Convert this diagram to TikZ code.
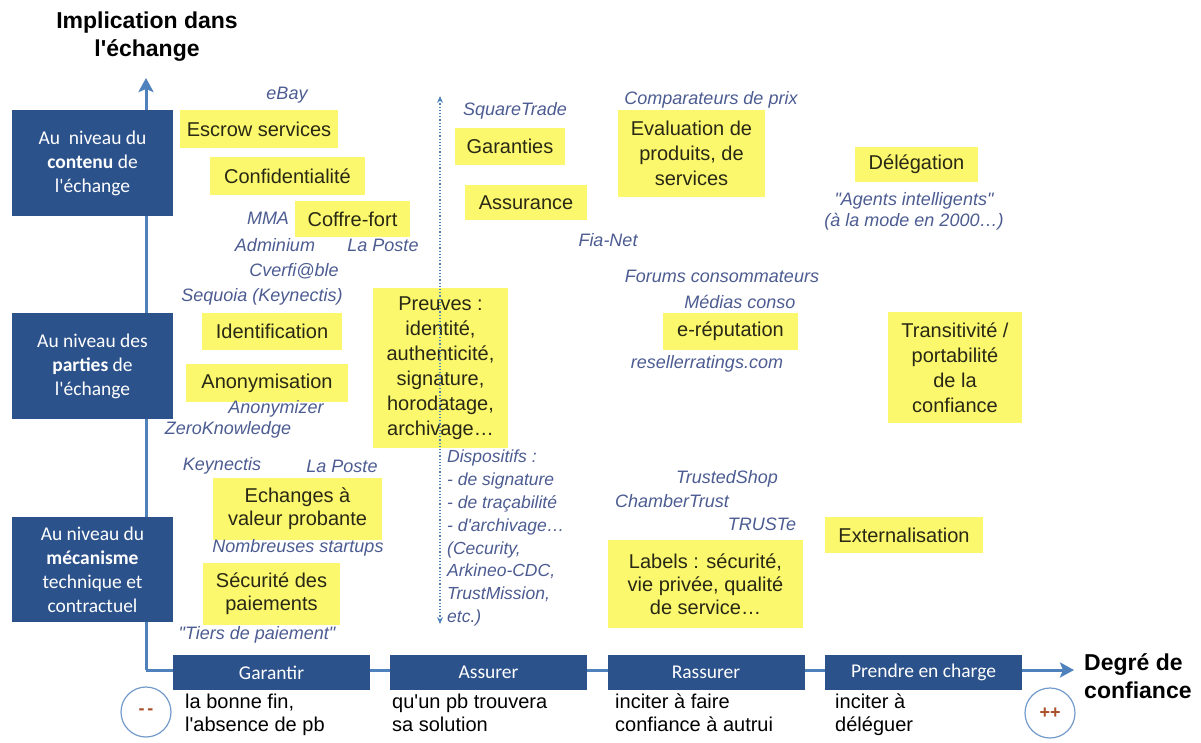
\documentclass[tikz,border=0pt]{standalone}
\usepackage{fontspec}
\setmainfont{Liberation Sans}
\newfontfamily\carlito{Carlito}
\usetikzlibrary{arrows.meta}
\newcommand\aq{\textquotesingle}
\newcommand\dq{\textquotedbl}
\definecolor{ylw}{RGB}{252,248,110}
\definecolor{dkblue}{RGB}{44,82,140}
\definecolor{axblue}{RGB}{79,129,189}
\definecolor{lblue}{RGB}{76,92,145}
\definecolor{ytext}{RGB}{40,40,20}
\definecolor{circtxt}{RGB}{170,80,40}
\tikzset{
  ybox/.style={fill=ylw, inner sep=0pt, align=center, text=ytext, font=\fontsize{20}{25}\selectfont},
  lbox/.style={fill=dkblue, inner sep=0pt, align=center, text=white, minimum width=161, font=\carlito\fontsize{19.5}{24}\selectfont},
  bbox/.style={fill=dkblue, inner sep=0pt, align=center, text=white, minimum width=197, minimum height=35, font=\carlito\fontsize{19.5}{22}\selectfont},
  lab/.style={text=lblue, inner sep=0pt, font=\itshape\fontsize{18}{21}\selectfont},
  desc/.style={anchor=north west, align=left, inner sep=0pt, font=\fontsize{20}{23}\selectfont},
  circ/.style={circle, draw=axblue!80, line width=1.2pt, minimum size=50, inner sep=0pt, text=circtxt, font=\bfseries\fontsize{18}{20}\selectfont},
  axis/.style={axblue, line width=3pt, -{Stealth[length=14pt,width=15pt,inset=3pt]}},
  ttl/.style={align=center, inner sep=0pt, font=\bfseries\fontsize{23}{28}\selectfont}
}
\begin{document}
\begin{tikzpicture}[x=1pt,y=-1pt]
\useasboundingbox (0,0) rectangle (1201,742);
% axes
\coordinate (O) at (146,670);
\coordinate (ytop) at (146,78);
\coordinate (xend) at (1074,670);
\draw[axis] (O) -- (ytop);
\draw[axis] (O) -- (xend);
% titles
\node[ttl] (ttly) at (147,37) {Implication dans\\l\aq échange};
\node[ttl, align=left, anchor=west] (ttlx) at (1084,676) {Degré de\\confiance};
% left boxes
\node[lbox, minimum height=106] (b1) at (92.5,163) {Au\ \ niveau du\\\textbf{contenu} de\\l\aq échange};
\node[lbox, minimum height=106] (b2) at (92.5,366) {Au niveau des\\\textbf{parties} de\\l\aq échange};
\node[lbox, minimum height=105] (b3) at (92.5,569.5) {Au niveau du\\\textbf{mécanisme}\\technique et\\contractuel};
% bottom boxes
\node[bbox] (g1) at (271.5,672.5) {Garantir};
\node[bbox] (g2) at (488.5,672.5) {Assurer};
\node[bbox] (g3) at (706,672.5) {Rassurer};
\node[bbox] (g4) at (923.5,672.5) {Prendre en charge};
\node[desc] (d1) at (185,694) {la bonne fin,\\l\aq absence de pb};
\node[desc] (d2) at (392,694) {qu\aq un pb trouvera\\sa solution};
\node[desc] (d3) at (615,694) {inciter à faire\\confiance à autrui};
\node[desc] (d4) at (835,694) {inciter à\\déléguer};
\node[circ] (cm) at (146,712) {-\,-};
\node[circ] (cp) at (1050,713) {++};
% yellow boxes
\node[ybox, minimum width=158, minimum height=38] (esc) at (259,129) {Escrow services};
\node[ybox, minimum width=155, minimum height=38] (conf) at (287.5,176) {Confidentialité};
\node[ybox, minimum width=115, minimum height=36] (coff) at (352.5,219) {Coffre-fort};
\node[ybox, minimum width=140, minimum height=37] (ident) at (272,331.5) {Identification};
\node[ybox, minimum width=162, minimum height=38] (anon) at (267,383) {Anonymisation};
\node[ybox, minimum width=135, minimum height=160] (preuves) at (440.5,368) {Preuves :\\identité,\\authenticité,\\signature,\\horodatage,\\archivage…};
\node[ybox, minimum width=169, minimum height=62, font=\fontsize{20}{23}\selectfont] (echg) at (297.5,509) {Echanges à\\valeur probante};
\node[ybox, minimum width=137, minimum height=62, font=\fontsize{20}{23}\selectfont] (secu) at (271.5,594) {Sécurité des\\paiements};
\node[ybox, minimum width=110, minimum height=37] (gar) at (510,146.5) {Garanties};
\node[ybox, minimum width=122, minimum height=35] (assur) at (526,202.5) {Assurance};
\node[ybox, minimum width=147, minimum height=87] (eval) at (691.5,153.5) {Evaluation de\\produits, de\\services};
\node[ybox, minimum width=135, minimum height=37] (erep) at (730.5,331.5) {e-réputation};
\node[ybox, minimum width=195, minimum height=88, font=\fontsize{20}{23}\selectfont] (labels) at (705.5,584) {Labels : sécurité,\\vie privée, qualité\\de service…};
\node[ybox, minimum width=123, minimum height=35] (deleg) at (916.5,164.5) {Délégation};
\node[ybox, minimum width=134, minimum height=111] (trans) at (955,367.5) {Transitivité /\\portabilité\\de la\\confiance};
\node[ybox, minimum width=158, minimum height=36] (ext) at (904,535) {Externalisation};
% dotted double arrow
\coordinate (dtop) at (440,96);
\coordinate (dbot) at (440,624);
\draw[axblue, line width=1.2pt, dotted, {Stealth[length=7pt,width=6pt]}-{Stealth[length=7pt,width=6pt]}] (dbot) -- (dtop);
% italic labels
\node[lab] (ebay) at (287,95) {eBay};
\node[lab] (mma) at (268,218) {MMA};
\node[lab] (admin) at (275,245) {Adminium};
\node[lab] (lp1) at (383,245) {La Poste};
\node[lab] (cverf) at (294,271) {Cverfi@ble};
\node[lab] (seq) at (262,297) {Sequoia (Keynectis)};
\node[lab] (anz) at (276,409) {Anonymizer};
\node[lab] (zk) at (228,430) {ZeroKnowledge};
\node[lab] (keyn) at (222,466) {Keynectis};
\node[lab] (lp2) at (342,466) {La Poste};
\node[lab] (nomb) at (298,548) {Nombreuses startups};
\node[lab] (tiers) at (257,635) {\dq Tiers de paiement\dq};
\node[lab] (sqt) at (515,111) {SquareTrade};
\node[lab] (comp) at (711,100) {Comparateurs de prix};
\node[lab] (fia) at (608,240) {Fia-Net};
\node[lab] (forum) at (722,276) {Forums consommateurs};
\node[lab] (medias) at (740,302) {Médias conso};
\node[lab] (resel) at (707,364) {resellerratings.com};
\node[lab, anchor=north west, align=left, font=\itshape\fontsize{17.5}{22.8}\selectfont] (disp) at (447,450) {Dispositifs :\\- de signature\\- de traçabilité\\- d\aq archivage…\\(Cecurity,\\Arkineo-CDC,\\TrustMission,\\etc.)};
\node[lab] (tshop) at (727,479) {TrustedShop};
\node[lab] (chamb) at (672,501) {ChamberTrust};
\node[lab] (truste) at (762,524) {TRUSTe};
\node[lab, align=center] (agents) at (914,211) {\dq Agents intelligents\dq\\(à la mode en 2000…)};
\end{tikzpicture}
\end{document}
